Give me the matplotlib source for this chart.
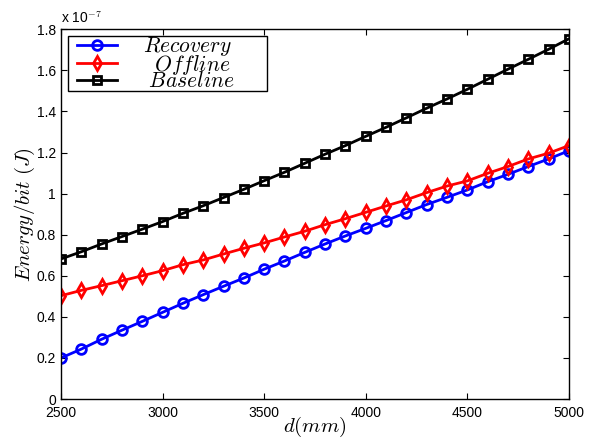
import numpy as np
import matplotlib
matplotlib.use("Agg")
import matplotlib.pyplot as plt
from matplotlib.patches import Rectangle

plt.rcParams['font.family'] = ['Liberation Sans', 'DejaVu Sans']
plt.rcParams['mathtext.fontset'] = 'cm'

# distance in mm
d = np.arange(2500, 5001, 100)

# energy per bit, in units of 1e-7 J
recovery = [0.200, 0.243, 0.291, 0.335, 0.378, 0.422, 0.466, 0.508, 0.549, 0.589,
            0.632, 0.672, 0.714, 0.755, 0.794, 0.831, 0.869, 0.908, 0.947, 0.982,
            1.018, 1.058, 1.094, 1.132, 1.169, 1.209]
offline = [0.503, 0.529, 0.552, 0.576, 0.600, 0.625, 0.654, 0.677, 0.706, 0.734,
           0.760, 0.789, 0.817, 0.849, 0.878, 0.909, 0.940, 0.970, 1.005, 1.037,
           1.062, 1.099, 1.132, 1.169, 1.197, 1.234]
baseline = [0.682, 0.717, 0.755, 0.791, 0.827, 0.864, 0.904, 0.941, 0.981, 1.021,
            1.063, 1.104, 1.148, 1.192, 1.234, 1.279, 1.323, 1.369, 1.416, 1.461,
            1.508, 1.557, 1.606, 1.654, 1.703, 1.754]
labels = ['$Recovery$', '$Offline$', '$Baseline$']

fig = plt.figure(figsize=(5.92, 4.38), dpi=100)
ax = fig.add_axes([0.103, 0.089, 0.858, 0.844])

ax.plot(d, recovery, '-o', color='blue', lw=2, ms=7, mew=2, mfc='none',
        label=labels[0])
ax.plot(d, offline, '-d', color='red', lw=2, ms=7, mew=2, mfc='none',
        label='  ' + labels[1])
ax.plot(d, baseline, '-s', color='black', lw=2, ms=6, mew=2, mfc='none',
        label=' ' + labels[2])

ax.set_xlim(2500, 5000)
ax.set_ylim(0, 1.8)
ax.set_xticks(np.arange(2500, 5001, 500))
ax.set_yticks(np.arange(0, 1.81, 0.2))
ax.set_yticklabels(['0', '0.2', '0.4', '0.6', '0.8', '1', '1.2', '1.4', '1.6', '1.8'])
ax.tick_params(direction='in', top=True, right=True, labelsize=10, length=4)
ax.tick_params(axis='x', pad=5)
for s in ax.spines.values():
    s.set_linewidth(1)

ax.text(0, 1.008, r'x 10$^{-7}$', transform=ax.transAxes, fontsize=10,
        ha='left', va='bottom')

ax.set_xlabel('$d(mm)$', fontsize=15, labelpad=-4)
ax.set_ylabel('$Energy/bit\\ (J)$', fontsize=15, labelpad=0)

# tight legend rows, frame drawn separately with a wider right margin
leg = ax.legend(loc='upper left', bbox_to_anchor=(0.0315, 0.984), fontsize=15.5,
                frameon=False, handlelength=1.86, labelspacing=-0.25,
                borderpad=0, handletextpad=1.2, borderaxespad=0)

fig.canvas.draw()
bb = leg.get_window_extent().transformed(ax.transAxes.inverted())
px = 1.0 / (ax.bbox.width)
py = 1.0 / (ax.bbox.height)
x0 = bb.x0 - 9 * px
x1 = bb.x1 + 32 * px
y0 = bb.y0 + 1 * py
y1 = bb.y1 - 1 * py
ax.add_patch(Rectangle((x0, y0), x1 - x0, y1 - y0, transform=ax.transAxes,
                       facecolor='white', edgecolor='black', lw=1, zorder=4))
leg.set_zorder(5)

fig.savefig('out.png', dpi=100)
